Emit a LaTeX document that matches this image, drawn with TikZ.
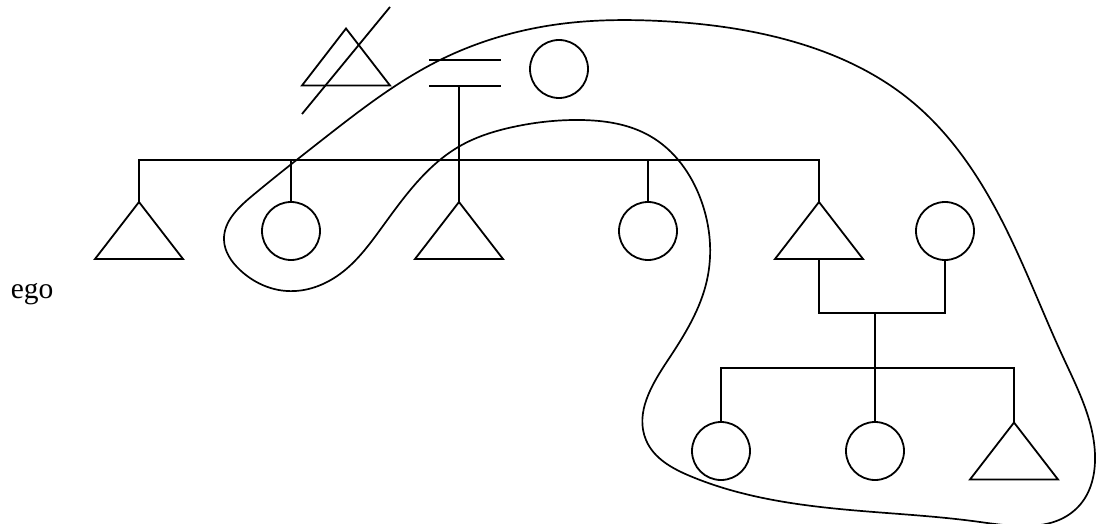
\documentclass[tikz,border=0pt]{standalone}
\usepackage{fontspec}
\setmainfont{Liberation Serif}
\usetikzlibrary{hobby}
\begin{document}
\begin{tikzpicture}[x=1pt,y=-1pt,line width=1.8pt,
  person/.style={circle,draw,minimum size=58pt,inner sep=0pt},
  tri/.pic={\draw[line join=miter] (-44,28.5) -- (0,-28.5) -- (44,28.5) -- cycle;
            \coordinate (-top) at (0,-28.5); \coordinate (-bot) at (0,28.5);},
  kin/.style={draw},
  zone/.style={draw,line width=1.7pt}]
\useasboundingbox (0,0) rectangle (1096,524);
% text
\node[anchor=base west,inner sep=0pt,font=\fontsize{29.5}{34}\selectfont] (ego) at (10,298) {ego};
% parents' generation
\pic (x0) at (346,57) {tri};
\coordinate (s1) at (302,114); \coordinate (s2) at (390,7);
\draw[kin] (s1) -- (s2);
\coordinate (m1a) at (429,60); \coordinate (m1b) at (501,60);
\coordinate (m2a) at (429,86); \coordinate (m2b) at (501,86);
\draw[kin] (m1a) -- (m1b);
\draw[kin] (m2a) -- (m2b);
\node[person] (c0) at (559,69) {};
\coordinate (m) at (459,86);
% siblings
\coordinate (bar) at (0,160);
\pic (t1) at (139,230.5) {tri};
\node[person] (c1) at (291,231) {};
\pic (t2) at (459,230.5) {tri};
\node[person] (c2) at (648,231) {};
\pic (t3) at (819,230.5) {tri};
\node[person] (c3) at (945,231) {};
\draw[kin] (t1-top) -- (t1-top |- bar) -- (t3-top |- bar) -- (t3-top);
\draw[kin] (c1.north) -- (c1.north |- bar);
\draw[kin] (c2.north) -- (c2.north |- bar);
\draw[kin] (m) -- (t2-top);
% marriage and children
\coordinate (mar) at (0,313);
\coordinate (d) at (875,313);
\coordinate (kb) at (0,368);
\node[person] (c4) at (721,451) {};
\node[person] (c5) at (875,451) {};
\pic (t4) at (1014,451) {tri};
\draw[kin] (t3-bot) -- (t3-bot |- mar) -- (c3.south |- mar) -- (c3.south);
\draw[kin] (d) -- (c5.north);
\draw[kin] (c4.north) -- (c4.north |- kb) -- (t4-top |- kb) -- (t4-top);
% enclosing curve
\draw[zone,use Hobby shortcut,closed=true]
 (224,240) .. (252,196) .. (322,140) .. (440,60) .. (560,24) .. (660,21)
 .. (780,38) .. (910,100) .. (1000,217) .. (1063,357) .. (1095,455)
 .. (1078,507) .. (980,522) .. (850,510) .. (690,476) .. (646,440)
 .. (668,360) .. (707,280) .. (701,200) .. (650,136) .. (580,120)
 .. (513,127) .. (460,146) .. (380,230) .. (340,274) .. (287,291) .. (240,270);
\end{tikzpicture}
\end{document}
